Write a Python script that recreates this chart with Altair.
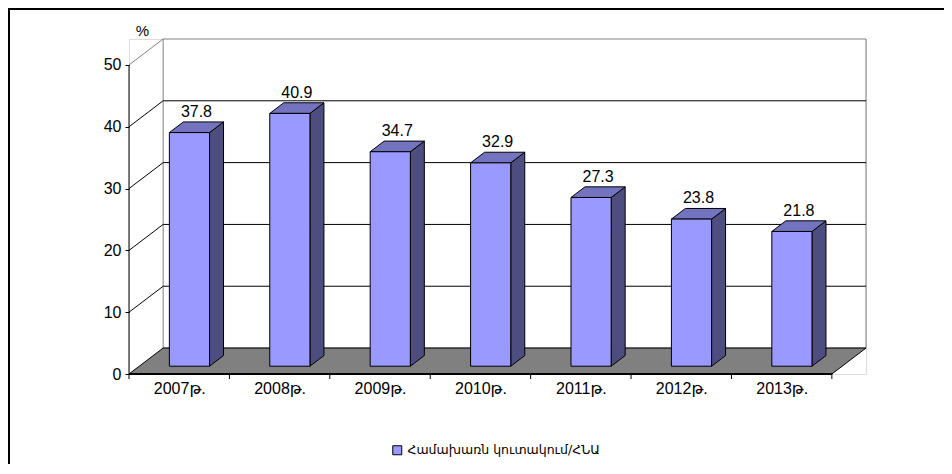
import altair as alt
import pandas as pd

# ---- data ----
years = ["2007թ.", "2008թ.", "2009թ.", "2010թ.", "2011թ.", "2012թ.", "2013թ."]
values = [37.8, 40.9, 34.7, 32.9, 27.3, 23.8, 21.8]
series_name = "Համախառն կուտակում/ՀՆԱ"
y_ticks = [0, 10, 20, 30, 40, 50]

# ---- 3D geometry (in scale units) ----
N = len(years)
YMAX = 50
DX = 0.34      # depth offset, category units
DY = 4.2       # depth offset, value units
F1, F2 = 0.30, 0.71   # depth of bar front / back planes
BL, BR = 0.30, 0.70   # bar left / right inside a band

FONT = "Liberation Sans, DejaVu Sans"
FRONT = "#9999FF"
SIDE = "#4D4D80"
TOP = "#7373BF"

xs = alt.Scale(domain=[0, N + DX], nice=False, zero=False)
ys = alt.Scale(domain=[0, YMAX + DY], nice=False, zero=False)

label_expr = "[" + ",".join(f"'{y}'" for y in years) + "][floor(datum.value)]"
AXX = alt.Axis(
    values=[i + 0.5 for i in range(N)], labelExpr=label_expr, ticks=False,
    domain=False, grid=False, labelPadding=6, labelFont=FONT, labelFontSize=16,
    labelColor="black", title=None)
AXY = alt.Axis(
    values=y_ticks, domain=False, grid=False, tickColor="black", tickSize=4,
    labelPadding=4, labelFont=FONT, labelFontSize=16, labelColor="black",
    title="%", titleAngle=0, titleX=13, titleY=-9, titleAlign="center",
    titleBaseline="middle", titleFont=FONT, titleFontSize=15,
    titleFontWeight="normal", titleColor="black")


def X(f):
    return alt.X(f, scale=xs, axis=AXX)


def Y(f):
    return alt.Y(f, scale=ys, axis=AXY)


# front faces
front = pd.DataFrame({
    "year": years,
    "value": values,
    "series": [series_name] * N,
    "x1": [i + BL + F1 * DX for i in range(N)],
    "x2": [i + BR + F1 * DX for i in range(N)],
    "y1": [F1 * DY] * N,
    "y2": [v + F1 * DY for v in values],
})

# side faces (vertical-edged parallelograms)
side_rows = []
for i, v in enumerate(values):
    for f in (F1, F2):
        side_rows.append({"bar": i, "x": i + BR + f * DX, "y": f * DY, "y2": v + f * DY})
side = pd.DataFrame(side_rows)

# top faces (horizontal-edged parallelograms)
top_rows = []
for i, v in enumerate(values):
    for f in (F1, F2):
        top_rows.append({"bar": i, "y": v + f * DY, "x": i + BL + f * DX, "x2": i + BR + f * DX})
top = pd.DataFrame(top_rows)

labels = pd.DataFrame({
    "x": [i + 0.5 + (F1 + F2) / 2 * DX for i in range(N)],
    "y": [v + F2 * DY for v in values],
    "text": [f"{v:.1f}" for v in values],
})

floor = pd.DataFrame({"y": [0, DY], "x": [0, DX], "x2": [N, N + DX], "k": [0, 0]})
wall = pd.DataFrame({"x": [DX], "x2": [N + DX], "y": [DY], "y2": [YMAX + DY]})
grid = pd.DataFrame({"x": [DX] * 4, "x2": [N + DX] * 4, "y": [v + DY for v in y_ticks[1:-1]]})
diag = pd.DataFrame({
    "x": [0] * 5, "x2": [DX] * 5,
    "y": y_ticks[1:], "y2": [v + DY for v in y_ticks[1:]],
    "c": ["black"] * 4 + ["#808080"],
})
xaxis_line = pd.DataFrame({"x": [0], "x2": [N], "y": [0]})
yaxis_line = pd.DataFrame({"x": [0], "y": [0], "y2": [YMAX]})
xticks = pd.DataFrame({"x": list(range(N + 1)), "y": [0] * (N + 1)})
one = pd.DataFrame({"a": [0]})

back = alt.Chart(wall).mark_rect(fill="white", stroke="#808080", strokeWidth=1).encode(
    x=X("x:Q"), x2="x2:Q", y=Y("y:Q"), y2="y2:Q",
)

grid_l = alt.Chart(grid).mark_rule(color="black", strokeWidth=1).encode(
    x=X("x:Q"), x2="x2:Q", y=Y("y:Q"),
)

diag_l = alt.Chart(diag).mark_rule(strokeWidth=1).encode(
    x=X("x:Q"), x2="x2:Q", y=Y("y:Q"), y2="y2:Q",
    color=alt.Color("c:N", scale=None),
)

floor_l = alt.Chart(floor).mark_area(orient="horizontal", fill="#808080",
                                     stroke="black", strokeWidth=1).encode(
    y=Y("y:Q"), x=X("x:Q"), x2="x2:Q", detail="k:N",
)

xline = alt.Chart(xaxis_line).mark_rule(color="black", strokeWidth=2).encode(
    x=X("x:Q"), x2="x2:Q", y=Y("y:Q"),
)
yline = alt.Chart(yaxis_line).mark_rule(color="black", strokeWidth=1).encode(
    x=X("x:Q"), y=Y("y:Q"), y2="y2:Q",
)
xtick_l = alt.Chart(xticks).mark_rule(color="black", strokeWidth=1).encode(
    x=X("x:Q"), y=Y("y:Q"), y2=alt.value(340),
)

side_l = alt.Chart(side).mark_area(fill=SIDE, stroke="black", strokeWidth=1).encode(
    x=X("x:Q"), y=Y("y:Q"), y2="y2:Q", detail="bar:N",
)
top_l = alt.Chart(top).mark_area(orient="horizontal", fill=TOP, stroke="black",
                                 strokeWidth=1).encode(
    y=Y("y:Q"), x=X("x:Q"), x2="x2:Q", detail="bar:N",
)
front_l = alt.Chart(front).mark_rect(stroke="black", strokeWidth=1).encode(
    x=X("x1:Q"), x2="x2:Q", y=Y("y1:Q"), y2="y2:Q",
    color=alt.Color("series:N", scale=alt.Scale(range=[FRONT]), legend=alt.Legend(
        title=None, orient="none", legendX=262, legendY=405, symbolType="square",
        symbolSize=81, symbolStrokeColor="black", symbolStrokeWidth=1,
        symbolFillColor=FRONT, labelFont="DejaVu Sans", labelFontSize=12.5,
        labelColor="black", padding=0, labelOffset=4, labelLimit=0)),
)

text_l = alt.Chart(labels).mark_text(font=FONT, fontSize=16, color="black",
                                     baseline="bottom", align="center", dy=-2).encode(
    x=X("x:Q"), y=Y("y:Q"), text="text:N",
)

border_top = alt.Chart(one).mark_rule(color="black", strokeWidth=2).encode(
    x=alt.value(-121), x2=alt.value(900), y=alt.value(-30))
border_left = alt.Chart(one).mark_rule(color="black", strokeWidth=2).encode(
    x=alt.value(-120), y=alt.value(-31), y2=alt.value(500))

chart = alt.layer(
    back, grid_l, diag_l, floor_l, yline, xtick_l, side_l, top_l, front_l, xline,
    text_l, border_top, border_left,
).properties(
    width=737, height=335,
    autosize=alt.AutoSizeParams(type="none"),
    padding={"left": 121, "top": 31, "right": 78, "bottom": 90},
).configure_view(stroke=None).configure(background="white")

chart.save("out.html", embed_options={"renderer": "svg", "actions": False})
